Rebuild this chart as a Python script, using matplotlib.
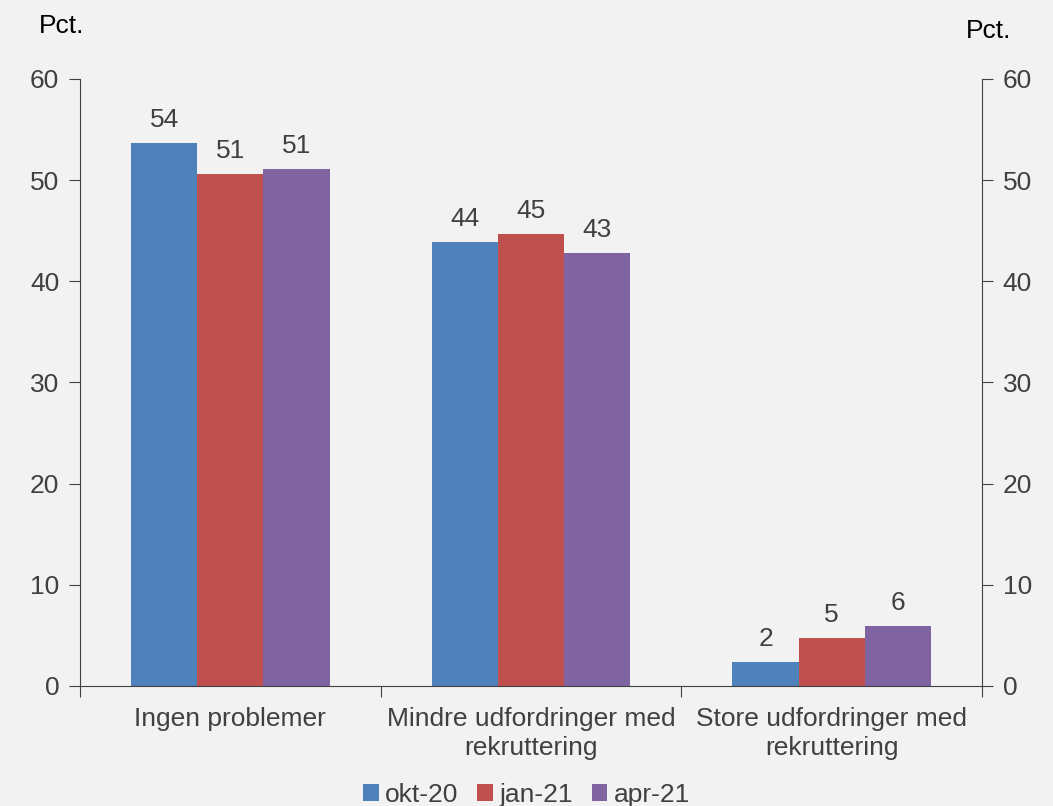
import numpy as np
import matplotlib.pyplot as plt

plt.rcParams['font.family'] = ['Liberation Sans', 'DejaVu Sans']

# Data
kategorier = ["Ingen problemer", "Mindre udfordringer med\nrekruttering", "Store udfordringer med\nrekruttering"]
serier = ["okt-20", "jan-21", "apr-21"]
okt20 = [53.7, 43.9, 2.4]
jan21 = [50.6, 44.7, 4.7]
apr21 = [51.1, 42.8, 5.9]
labels_okt20 = ["54", "44", "2"]
labels_jan21 = ["51", "45", "5"]
labels_apr21 = ["51", "43", "6"]
farver = ["#4F81BD", "#C0504D", "#8064A2"]

bg = "#F2F2F2"
grey = "#404040"
fs = 19

fig = plt.figure(figsize=(10.53, 8.06), dpi=100, facecolor=bg)
ax = fig.add_axes([0.076, 0.1489, 0.8566, 0.7531], facecolor=bg)

x = np.arange(len(kategorier))
bw = 0.22
for i, (vals, labs, navn) in enumerate(zip([okt20, jan21, apr21],
                                           [labels_okt20, labels_jan21, labels_apr21], serier)):
    pos = x + (i - 1) * bw
    ax.bar(pos, vals, width=bw, color=farver[i], label=navn, zorder=2)
    for p, v, l in zip(pos, vals, labs):
        ax.annotate(l, (p, v), xytext=(0, 8), textcoords="offset points",
                    ha="center", va="bottom", fontsize=fs, color=grey)

ax.set_xlim(-0.5, 2.5)
ax.set_ylim(0, 60)
ax.set_yticks(range(0, 61, 10))
ax.set_xticks([-0.5, 0.5, 1.5, 2.5])
ax.set_xticklabels([])
ax.set_xticks(x, minor=True)
ax.set_xticklabels(kategorier, minor=True, fontsize=fs, color=grey, linespacing=1.28)
ax.tick_params(axis="x", which="minor", length=0, pad=15)
ax.tick_params(axis="x", which="major", length=8, color=grey, direction="out")
ax.tick_params(axis="y", length=8, color=grey, direction="out", labelsize=fs,
               labelcolor=grey, left=True, right=True, labelleft=True, labelright=True, pad=7)

for s in ["left", "right", "bottom"]:
    ax.spines[s].set_color(grey)
ax.spines["top"].set_visible(False)

fig.text(0.037, 0.968, "Pct.", fontsize=fs, color="black", va="center")
fig.text(0.917, 0.962, "Pct.", fontsize=fs, color="black", va="center")

fig.legend(loc="center", bbox_to_anchor=(0.5, 0.014), ncol=3, frameon=False,
           fontsize=fs, labelcolor=grey, handlelength=0.6, handleheight=0.6,
           handletextpad=0.25, columnspacing=0.7, borderpad=0)

fig.savefig("out.png", dpi=100, facecolor=bg)
